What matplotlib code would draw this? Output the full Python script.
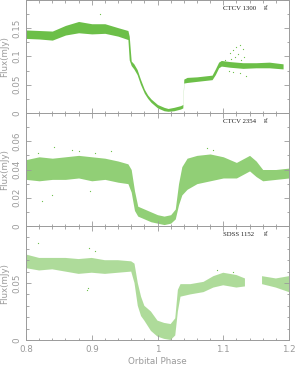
import numpy as np
import matplotlib
matplotlib.use('Agg')
import matplotlib.pyplot as plt
from matplotlib.ticker import MultipleLocator, FuncFormatter


#light curve envelopes (phase, lower flux, upper flux) in mJy
ph1 = [0.80, 0.82, 0.84, 0.86, 0.88, 0.90, 0.92, 0.94, 0.955, 0.957, 0.960, 0.964,
       0.969, 0.974, 0.980, 0.985, 0.990, 1.000, 1.010, 1.016, 1.025, 1.035, 1.0385,
       1.040, 1.045, 1.060, 1.083, 1.088, 1.093, 1.097, 1.110, 1.130, 1.150, 1.170, 1.191]
lo1 = [0.132, 0.131, 0.129, 0.138, 0.142, 0.140, 0.141, 0.136, 0.130, 0.094, 0.084, 0.078,
       0.068, 0.051, 0.035, 0.026, 0.019, 0.009, 0.004, 0.003, 0.004, 0.007, 0.009,
       0.053, 0.054, 0.056, 0.059, 0.068, 0.080, 0.083, 0.081, 0.079, 0.080, 0.080, 0.078]
hi1 = [0.147, 0.146, 0.145, 0.155, 0.162, 0.158, 0.158, 0.151, 0.146, 0.136, 0.092, 0.087,
       0.077, 0.060, 0.042, 0.032, 0.025, 0.015, 0.010, 0.008, 0.010, 0.013, 0.015,
       0.060, 0.063, 0.064, 0.067, 0.078, 0.090, 0.093, 0.091, 0.089, 0.089, 0.090, 0.087]
out1_ph = [0.913, 1.103, 1.108, 1.110, 1.112, 1.115, 1.115, 1.118, 1.120, 1.122, 1.125, 1.125, 1.127, 1.130, 1.132, 1.135]
out1_fx = [0.175, 0.094, 0.075, 0.106, 0.095, 0.112, 0.072, 0.099, 0.117, 0.104, 0.121, 0.070, 0.094, 0.114, 0.100, 0.066]

ph2 = [0.80, 0.82, 0.84, 0.86, 0.88, 0.90, 0.92, 0.94, 0.955, 0.960, 0.965, 0.970,
       0.980, 0.990, 1.000, 1.010, 1.020, 1.027, 1.032, 1.037, 1.045, 1.060, 1.080,
       1.100, 1.120, 1.140, 1.150, 1.160, 1.180, 1.200]
lo2 = [0.033, 0.032, 0.033, 0.033, 0.034, 0.032, 0.033, 0.031, 0.030, 0.024, 0.011, 0.007,
       0.005, 0.003, 0.002, 0.001, 0.002, 0.005, 0.015, 0.022, 0.026, 0.030, 0.032,
       0.034, 0.034, 0.039, 0.035, 0.032, 0.033, 0.034]
hi2 = [0.047, 0.049, 0.048, 0.049, 0.050, 0.049, 0.048, 0.046, 0.044, 0.040, 0.025, 0.014,
       0.012, 0.010, 0.008, 0.007, 0.008, 0.012, 0.030, 0.042, 0.048, 0.050, 0.051,
       0.049, 0.045, 0.050, 0.046, 0.040, 0.040, 0.041]
out2_ph = [0.818, 0.824, 0.840, 0.842, 0.870, 0.880, 0.897, 0.905, 0.930, 1.075, 1.085]
out2_fx = [0.052, 0.018, 0.022, 0.056, 0.054, 0.053, 0.025, 0.052, 0.053, 0.055, 0.054]

ph3 = [0.80, 0.82, 0.84, 0.86, 0.88, 0.90, 0.92, 0.94, 0.960, 0.965, 0.970, 0.975,
       0.980, 0.990, 1.000, 1.010, 1.020, 1.027, 1.031, 1.035, 1.050, 1.070, 1.085,
       1.100, 1.120, 1.133, 1.146, 1.159, 1.180, 1.200]
lo3 = [0.063, 0.061, 0.062, 0.060, 0.058, 0.059, 0.058, 0.059, 0.060, 0.050, 0.030, 0.021,
       0.017, 0.008, 0.003, 0.001, 0.000, 0.004, 0.025, 0.038, 0.040, 0.042, 0.046,
       0.048, 0.046, 0.047, np.nan, 0.049, 0.046, 0.042]
hi3 = [0.075, 0.072, 0.072, 0.072, 0.071, 0.072, 0.070, 0.070, 0.069, 0.067, 0.050, 0.038,
       0.030, 0.025, 0.017, 0.015, 0.014, 0.019, 0.044, 0.049, 0.049, 0.051, 0.056,
       0.059, 0.057, 0.054, np.nan, 0.056, 0.054, 0.056]
out3_ph = [0.818, 0.893, 0.894, 0.896, 0.905, 1.090, 1.115]
out3_fx = [0.085, 0.044, 0.046, 0.081, 0.078, 0.061, 0.060]

names = ['CTCV 1300', 'CTCV 2354', 'SDSS 1152']
ymax = [0.2, 0.08, 0.1]
ymajor = [0.05, 0.02, 0.05]
yminor = [0.025, 0.01, 0.01]
alphas = [1.0, 0.75, 0.55]

green = '#6cbf48'
grey = '#9a9a9a'

fig = plt.figure(figsize=(2.95, 3.66), dpi=100)
H = 366.
W = 295.
left = 26/W
width = (289-26)/W
tops = [0/H, 113/H, 226/H]
bots = [113/H, 226/H, 340/H]

data = [(ph1, lo1, hi1, out1_ph, out1_fx),
        (ph2, lo2, hi2, out2_ph, out2_fx),
        (ph3, lo3, hi3, out3_ph, out3_fx)]


#label formatter that drops the label at the top border
def make_fmt(top):
    def f(v, pos):
        if abs(v-top) < 1e-9:
            return ''
        return '%g' % round(v, 6)
    return FuncFormatter(f)


for k in range(3):
    ax = fig.add_axes([left, 1-bots[k], width, bots[k]-tops[k]])
    ph, lo, hi, oph, ofx = data[k]
    ax.fill_between(ph, lo, hi, color=green, alpha=alphas[k], lw=0)
    ax.scatter(oph, ofx, s=0.8, color=green, lw=0)

    ax.set_xlim(0.8, 1.2)
    ax.set_ylim(0, ymax[k])
    ax.xaxis.set_major_locator(MultipleLocator(0.1))
    ax.xaxis.set_minor_locator(MultipleLocator(0.02))
    ax.yaxis.set_major_locator(MultipleLocator(ymajor[k]))
    ax.yaxis.set_minor_locator(MultipleLocator(yminor[k]))
    ax.xaxis.set_major_formatter(make_fmt(99))
    ax.yaxis.set_major_formatter(make_fmt(ymax[k]))
    ax.tick_params(which='both', direction='in', top=True, right=True, color=grey,
                   labelcolor=grey, labelsize=6.3, width=0.6)
    ax.tick_params(which='major', length=3.5)
    ax.tick_params(which='minor', length=1.8)
    ax.tick_params(axis='y', labelrotation=90, pad=3)
    for lab in ax.get_yticklabels():
        lab.set_va('center')
    for s in ax.spines.values():
        s.set_color(grey)
        s.set_linewidth(0.7)
    if k < 2:
        ax.tick_params(axis='x', labelbottom=False)
    else:
        ax.set_xlabel('Orbital Phase', color=grey, fontsize=6.3, labelpad=2.5)
    ax.set_ylabel('Flux(mJy)', color=grey, fontsize=6.3, labelpad=3)

    ax.text(0.75, 0.925, names[k], transform=ax.transAxes, fontsize=4.9,
            family='Liberation Serif', color='#222222', va='center', ha='left')
    ax.text(0.905, 0.93, "g'", transform=ax.transAxes, fontsize=4.9,
            family='Liberation Serif', color='#222222', va='center', ha='left')

fig.savefig('out.png', dpi=100)
